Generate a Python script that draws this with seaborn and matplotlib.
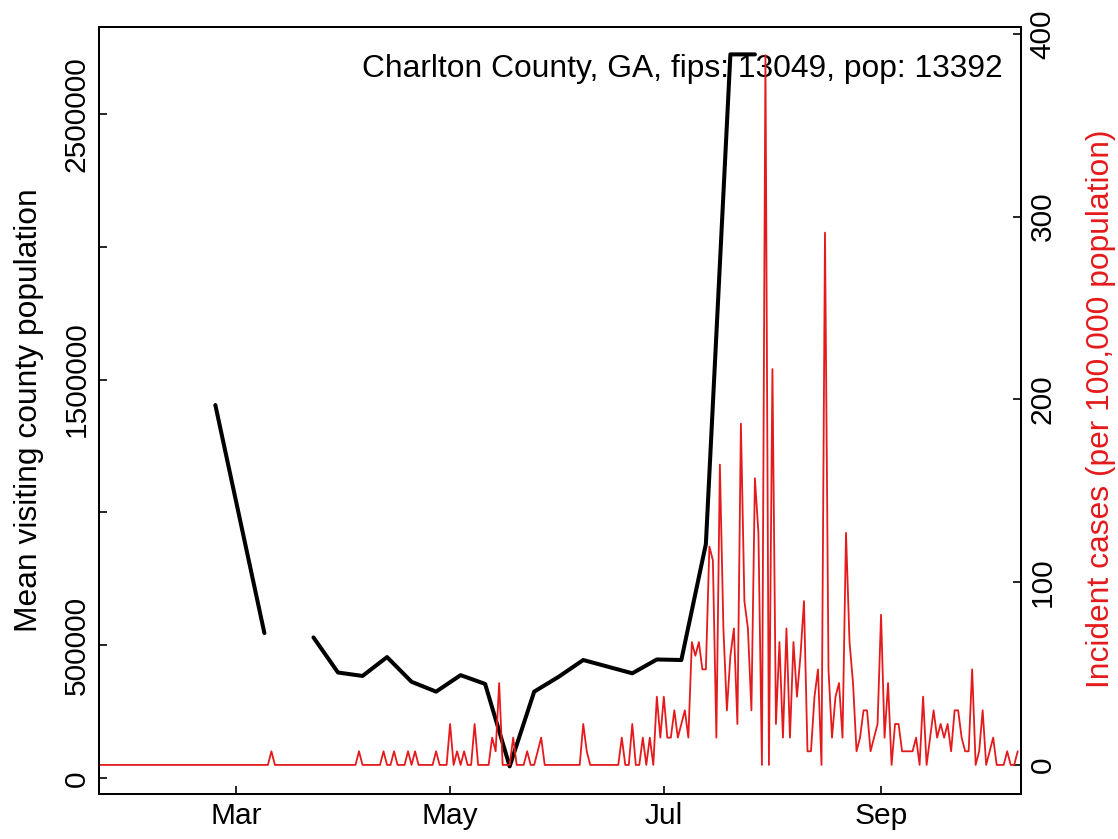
import numpy as np
import pandas as pd
import matplotlib
matplotlib.use("Agg")
import matplotlib.pyplot as plt
import matplotlib.dates as mdates
import seaborn as sns

# Rótulo e população do condado
county_label = "Charlton County, GA, fips: 13049, pop: 13392"
population = 13392

# Casos diários (contagem) desde 22/01/2020
case_start = "2020-01-22"
daily_cases = [
    0, 0, 0, 0, 0, 0, 0, 0, 0, 0, 0, 0, 0, 0, 0, 0, 0, 0, 0, 0,
    0, 0, 0, 0, 0, 0, 0, 0, 0, 0, 0, 0, 0, 0, 0, 0, 0, 0, 0, 0,
    0, 0, 0, 0, 0, 0, 0, 0, 0, 1, 0, 0, 0, 0, 0, 0, 0, 0, 0, 0,
    0, 0, 0, 0, 0, 0, 0, 0, 0, 0, 0, 0, 0, 0, 1, 0, 0, 0, 0, 0,
    0, 1, 0, 0, 1, 0, 0, 0, 1, 0, 1, 0, 0, 0, 0, 0, 1, 0, 0, 0,
    3, 0, 1, 0, 1, 0, 0, 3, 0, 0, 0, 0, 2, 1, 6, 0, 0, 0, 2, 0,
    0, 0, 1, 0, 0, 1, 2, 0, 0, 0, 0, 0, 0, 0, 0, 0, 0, 0, 3, 1,
    0, 0, 0, 0, 0, 0, 0, 0, 0, 2, 0, 0, 3, 0, 0, 2, 0, 2, 0, 5,
    2, 5, 2, 2, 4, 2, 3, 4, 2, 9, 8, 9, 7, 7, 16, 15, 2, 22, 10, 4,
    8, 10, 3, 25, 12, 10, 4, 21, 17, 0, 52, 0, 29, 3, 9, 2, 10, 2, 9, 5,
    8, 12, 1, 1, 5, 7, 0, 39, 7, 2, 5, 6, 2, 17, 9, 6, 1, 2, 4, 4,
    1, 2, 3, 11, 2, 6, 0, 3, 3, 1, 1, 1, 1, 2, 0, 5, 0, 2, 4, 2,
    3, 2, 3, 1, 4, 4, 2, 1, 1, 7, 0, 1, 4, 0, 1, 2, 0, 0, 0, 1,
    0, 0, 1,
]

# População visitante média (semanal) desde 24/02/2020
visit_start = "2020-02-24"
visit_values = [
    1404000, 975000, 546000, np.nan, 530000, 398000, 385000, 456000,
    363000, 326000, 388000, 355000, 45000, 326000, 382000, 445000,
    420000, 395000, 447000, 445000, 881000, 2723000, 2723000,
]

left_ticks = [0, 500000, 1000000, 1500000, 2000000, 2500000]
left_tick_labels = ["0", "500000", "", "1500000", "", "2500000"]
right_ticks = [0, 100, 200, 300, 400]

red = "#E41A1C"
fs = 21.5      # rótulos dos ticks
fs_lab = 22.9  # título e rótulos dos eixos

sns.set_style("ticks")
plt.rcParams["font.family"] = ["Liberation Sans", "DejaVu Sans"]
plt.rcParams["text.color"] = "black"
plt.rcParams["axes.labelcolor"] = "black"
plt.rcParams["xtick.color"] = "black"
plt.rcParams["ytick.color"] = "black"

fig = plt.figure(figsize=(11.18, 8.39), dpi=100)
ax = fig.add_axes([99 / 1118, 45 / 839, 921.5 / 1118, 767 / 839])
ax2 = ax.twinx()

# Linha preta: população visitante (quebra onde falta dado)
visits = pd.DataFrame({
    "date": pd.date_range(visit_start, periods=len(visit_values), freq="7D"),
    "value": visit_values,
})
visits["segment"] = visits["value"].isna().cumsum()
visits = visits.dropna()
sns.lineplot(data=visits, x="date", y="value", units="segment", estimator=None,
             color="black", linewidth=2.9, ax=ax)

# Linha vermelha: incidência por 100 mil
cases = pd.DataFrame({
    "date": pd.date_range(case_start, periods=len(daily_cases), freq="D"),
    "incidence": np.array(daily_cases) * 1e5 / population,
})
sns.lineplot(data=cases, x="date", y="incidence", estimator=None,
             color=red, linewidth=1.3, ax=ax2)

start = pd.Timestamp(case_start)
ax.set_xlim(start - pd.Timedelta(hours=5), start + pd.Timedelta(days=262.8))
ax.set_ylim(-59000, 2826000)
ax2.set_ylim(-15.9, 403.7)

ax.set_yticks(left_ticks)
ax.set_yticklabels(left_tick_labels, rotation=90, va="center")
ax2.set_yticks(right_ticks)
ax2.set_yticklabels([str(t) for t in right_ticks], rotation=90, va="center")
ax.xaxis.set_major_locator(mdates.MonthLocator(bymonth=[3, 5, 7, 9]))
ax.xaxis.set_major_formatter(mdates.DateFormatter("%b"))

for a in (ax, ax2):
    a.tick_params(direction="in", length=6, width=1.2, labelsize=fs, pad=6,
                  colors="black")
    for s in a.spines.values():
        s.set_color("black")
        s.set_linewidth(1.4)
    a.set_xlabel("")
    a.set_ylabel("")

ax.text(0.981, 0.9352, county_label, transform=ax.transAxes, ha="right",
        va="baseline", fontsize=fs_lab, color="black", zorder=1)

fig.text(37.5 / 1118, 1 - 410.5 / 839, "Mean visiting county population",
         rotation=90, rotation_mode="anchor", ha="center", va="baseline",
         fontsize=fs_lab, color="black")
fig.text(1109 / 1118, 1 - 409 / 839, "Incident cases (per 100,000 population)",
         rotation=90, rotation_mode="anchor", ha="center", va="baseline",
         fontsize=fs_lab, color=red)

fig.savefig("out.png", dpi=100)
